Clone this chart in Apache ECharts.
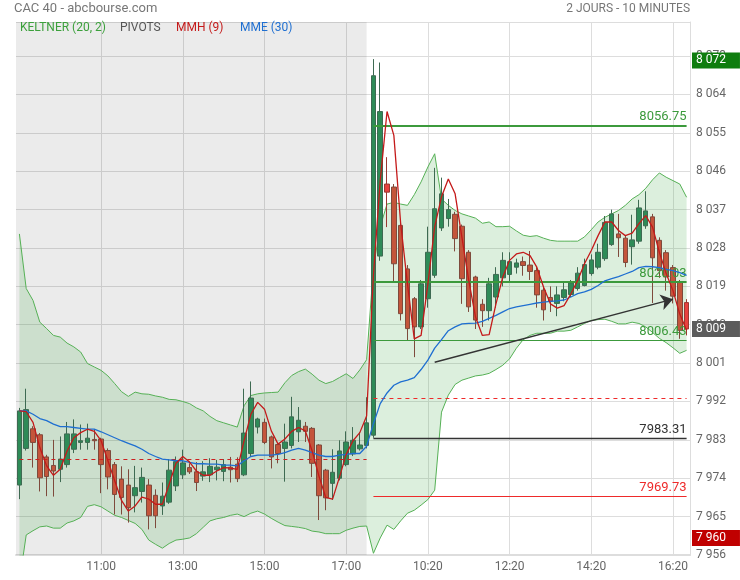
<!DOCTYPE html>
<html><head><meta charset="utf-8">
<script src="https://cdn.jsdelivr.net/npm/echarts@6/dist/echarts.min.js"></script>
<style>html,body{margin:0;padding:0;background:#fff}#c{width:740px;height:580px}</style>
</head><body><div id="c"></div>
<script>
// ---- categories (10-minute bars, two sessions) ----
function sessionTimes(h0, m0, h1, m1) {
  const out = [];
  for (let t = h0 * 60 + m0; t <= h1 * 60 + m1; t += 10) {
    out.push(String(Math.floor(t / 60)).padStart(2, '0') + ':' + String(t % 60).padStart(2, '0'));
  }
  return out;
}
const day1Times = sessionTimes(9, 0, 17, 30);
const day2Times = sessionTimes(9, 0, 16, 40);
const day1Ticks = ['11:00', '13:00', '15:00', '17:00'];
const day2Ticks = ['10:20', '12:20', '14:20', '16:20'];

// ---- candles [open, close, low, high] ----
const candles = [
  [7972.4,7989.8,7969.1,7990.5],[7981.0,7990.1,7980.5,7995.0],[7985.6,7982.4,7976.5,7986.2],[7984.2,7974.1,7970.9,7984.6],
  [7979.0,7974.4,7969.8,7979.5],[7977.0,7975.7,7969.7,7983.0],[7976.1,7978.5,7973.1,7983.8],[7977.2,7984.4,7976.5,7987.2],
  [7980.8,7984.4,7979.9,7987.8],[7982.4,7982.8,7980.7,7986.6],[7982.4,7983.4,7980.7,7986.8],[7983.1,7982.8,7980.7,7985.5],
  [7983.2,7977.2,7970.5,7983.5],[7980.5,7974.3,7971.4,7981.0],[7977.2,7970.2,7965.5,7977.8],[7973.8,7969.5,7965.5,7976.8],
  [7972.4,7967.1,7963.6,7976.1],[7969.9,7971.8,7966.0,7976.9],[7970.9,7974.2,7968.3,7976.5],[7972.4,7965.2,7962.0,7973.8],
  [7970.0,7965.2,7962.3,7971.4],[7967.5,7969.8,7965.4,7973.0],[7968.4,7975.9,7968.0,7978.5],[7972.2,7977.9,7971.0,7979.1],
  [7974.8,7977.6,7973.8,7980.7],[7976.5,7975.5,7975.0,7977.5],[7975.5,7973.0,7971.0,7977.8],[7974.5,7975.5,7973.4,7978.0],
  [7974.8,7976.8,7973.1,7978.7],[7976.0,7976.6,7973.5,7978.3],[7975.6,7977.2,7973.3,7978.5],[7976.6,7976.0,7973.0,7979.0],
  [7977.3,7973.9,7973.1,7978.9],[7974.8,7984.6,7974.5,7995.0],[7979.8,7992.8,7979.0,7996.7],[7986.0,7987.9,7984.5,7988.2],
  [7987.1,7982.4,7982.0,7988.0],[7983.7,7979.0,7976.3,7984.0],[7981.9,7979.8,7977.5,7982.1],[7981.0,7982.5,7973.2,7986.8],
  [7981.7,7988.4,7981.0,7993.1],[7984.9,7987.6,7982.5,7990.7],[7986.2,7985.0,7982.5,7987.2],[7985.7,7977.5,7974.3,7986.0],
  [7981.8,7969.9,7964.2,7982.0],[7975.9,7969.4,7966.5,7976.2],[7972.8,7975.4,7968.9,7980.8],[7974.0,7980.4,7973.5,7982.9],
  [7977.2,7982.5,7976.8,7985.0],[7979.7,7982.9,7979.2,7986.0],[7980.9,7981.8,7980.5,7984.8],[7981.7,7987.0,7981.0,7993.0],
  [7984.1,8068.4,7983.5,8072.3],[8026.1,8060.0,8025.0,8071.5],[8043.0,8041.1,8032.9,8049.3],[8042.3,8024.3,8020.0,8043.0],
  [8033.3,8012.6,8011.0,8034.0],[8023.1,8009.1,8006.3,8024.0],[8016.1,8009.5,8002.4,8016.5],[8009.5,8019.6,8009.0,8020.5],
  [8016.1,8027.0,8014.0,8033.0],[8021.6,8037.2,8021.0,8046.8],[8032.7,8040.7,8032.0,8044.5],[8034.9,8037.0,8033.0,8039.5],
  [8035.9,8030.2,8027.2,8036.5],[8033.1,8020.8,8014.9,8033.5],[8027.0,8014.2,8013.0,8027.5],[8021.2,8011.1,8009.0,8021.5],
  [8014.8,8013.3,8009.5,8016.0],[8013.3,8019.6,8011.0,8021.0],[8016.5,8021.8,8014.0,8023.5],[8021.0,8025.1,8019.0,8027.0],
  [8021.8,8024.8,8020.0,8027.0],[8023.5,8024.5,8022.0,8025.5],[8024.8,8023.9,8021.5,8026.0],[8024.0,8022.5,8020.5,8027.3],
  [8022.7,8017.0,8014.0,8023.5],[8018.1,8013.5,8011.0,8019.0],[8016.4,8015.5,8013.0,8019.0],[8015.0,8017.0,8012.0,8019.0],
  [8016.4,8018.2,8015.5,8020.0],[8017.1,8019.8,8016.5,8020.5],[8018.5,8022.1,8018.0,8023.5],[8019.2,8024.1,8019.0,8025.5],
  [8022.0,8025.2,8021.5,8026.5],[8023.5,8027.0,8023.0,8029.0],[8025.5,8034.0,8025.0,8035.5],[8028.8,8036.0,8028.5,8037.0],
  [8031.3,8030.4,8025.9,8036.0],[8030.3,8024.6,8023.5,8031.0],[8028.3,8029.9,8024.1,8035.8],[8029.6,8037.4,8029.0,8039.3],
  [8033.2,8036.7,8032.5,8041.3],[8035.3,8025.7,8015.1,8036.0],[8029.8,8022.7,8021.0,8030.5],[8026.9,8021.2,8018.0,8027.5],
  [8023.4,8016.7,8015.0,8024.0],[8020.0,8008.7,8006.7,8020.5],[8015.2,8009.0,8007.5,8016.0]
];
const brightDown = [54, 98];

// ---- MMH (9) ----
const mmh = [
  7989.8,7989.6,7987.1,7981.2,7976.9,7974.7,7976.1,7980.4,7983.5,7984.7,7985.5,7985.0,7982.8,7978.1,7973.4,7968.8,
  7966.3,7967.5,7969.6,7969.1,7967.9,7967.9,7972.6,7977.5,7979.1,7977.8,7975.7,7974.7,7974.7,7975.7,7976.5,7976.4,
  7976.1,7982.8,7989.0,7991.8,7990.2,7985.1,7982.0,7983.2,7985.0,7985.9,7985.1,7980.4,7974.5,7969.5,7969.1,7974.2,
  7979.6,7982.8,7984.7,7988.6,
  8021.6,8043.8,8060.0,8054.4,8033.8,8019.6,8006.7,8007.5,8019.6,8033.0,8040.0,8044.2,8040.7,8030.5,8020.4,8011.8,
  8007.5,8007.7,8014.9,8021.2,8025.1,8026.6,8027.0,8026.2,8023.5,8018.8,8014.9,8013.9,8014.5,8017.2,8020.4,8024.3,
  8027.4,8030.9,8034.1,8034.1,8032.1,8030.9,8031.5,8033.7,8035.6,8032.9,8027.0,8022.0,8018.0,8012.5,8008.7
];
// ---- MME (30) ----
const mme = [
  7989.8,7989.8,7989.0,7988.0,7987.5,7986.7,7986.1,7986.1,7985.9,7985.7,7985.5,7985.5,7984.9,7984.2,7983.5,7982.8,
  7982.2,7981.6,7980.8,7979.8,7979.1,7978.5,7978.3,7978.1,7978.1,7977.7,7977.4,7977.4,7977.3,7977.3,7977.1,7977.1,
  7976.9,7978.1,7979.1,7979.4,7979.4,7979.4,7979.6,7980.0,7980.6,7981.0,7980.6,7980.0,7979.4,7979.1,7979.1,7979.4,
  7979.6,7979.8,7979.8,7981.5,
  7986.8,7991.5,7994.0,7995.8,7996.6,7997.0,7997.6,7999.5,8001.7,8004.5,8006.5,8008.6,8009.5,8010.2,8010.3,8010.4,
  8010.8,8011.5,8012.2,8013.0,8013.8,8014.2,8014.5,8014.8,8015.1,8015.3,8015.5,8015.6,8015.8,8016.5,8017.3,8017.7,
  8018.3,8019.2,8020.3,8020.8,8021.3,8021.9,8022.5,8023.4,8023.7,8023.6,8023.4,8023.0,8022.7,8022.2,8021.6
];
// ---- Keltner (20, 2) ----
const keltnerUpper = [
  8031.3,8018.5,8015.7,8010.6,8009.1,8007.5,8007.1,8005.7,8004.8,8003.6,8000.9,8000.1,7999.3,7998.0,7996.2,7994.3,
  7993.2,7994.2,7993.8,7993.7,7993.3,7993.0,7992.5,7992.4,7992.0,7991.5,7990.5,7989.8,7988.5,7987.5,7987.0,7986.5,
  7986.0,7991.0,7993.4,7993.8,7994.0,7994.1,7994.2,7996.4,7998.1,7999.0,7999.6,7998.4,7997.0,7996.2,7996.7,7997.6,
  7998.5,7997.4,7999.4,8001.8,
  8023.5,8033.0,8038.3,8038.7,8038.3,8038.0,8040.5,8043.5,8047.0,8050.1,8039.5,8038.0,8036.8,8036.0,8035.5,8035.0,
  8033.8,8034.1,8033.0,8033.0,8033.1,8032.0,8031.0,8030.7,8030.9,8030.3,8029.8,8029.6,8029.6,8029.6,8029.6,8030.6,
  8032.3,8034.1,8035.2,8036.0,8036.8,8038.0,8039.5,8040.5,8042.0,8044.0,8045.6,8044.6,8043.8,8043.0,8039.9
];
const keltnerLower = [
  7949.7,7960.7,7961.7,7962.6,7962.8,7962.3,7962.3,7963.5,7964.0,7964.8,7967.4,7967.8,7967.3,7966.3,7965.3,7964.8,
  7964.1,7963.4,7962.0,7959.5,7958.5,7957.6,7958.7,7959.5,7959.7,7960.0,7961.0,7962.5,7964.0,7964.5,7964.8,7965.3,
  7965.6,7965.0,7965.8,7966.3,7965.6,7964.6,7963.7,7962.9,7962.7,7962.5,7962.2,7961.6,7961.4,7961.0,7961.0,7961.0,
  7961.8,7962.3,7962.7,7962.8,
  7956.4,7960.0,7963.0,7962.0,7964.0,7965.8,7966.5,7967.7,7969.0,7971.2,7989.5,7993.5,7996.0,7997.0,7997.5,7998.0,
  7998.2,7998.6,7999.5,8000.5,8002.0,8004.5,8006.5,8007.5,8008.0,8008.0,8008.0,8008.5,8008.5,8008.7,8009.5,8010.3,
  8011.0,8011.2,8011.3,8010.8,8010.2,8010.2,8010.6,8010.3,8009.5,8008.2,8006.8,8005.8,8004.6,8003.3,8004.0
];
// ---- pivots ----
const pivotDay1Dashed = 7978.5;
const pivotDay2Dashed = 7992.7;
const pivotLevels = [8056.75, 8020.03, 8006.43, 7983.31, 7969.73];
const pivotColors = ['#3c9a3c', '#3c9a3c', '#3c9a3c', '#333333', '#ee2a2a'];
const pivotWidths = [2, 2, 1.2, 1.3, 1];
// ---- trend arrow ----
const arrowFrom = ['10:30', 8001.2];
const arrowTo = ['16:20', 8016.0];
// ---- price tags ----
const dayHigh = 8072, lastPrice = 8009, dayLow = 7960;

// ---- build ----
const cats = day1Times.map(t => '1 ' + t).concat(day2Times.map(t => '2 ' + t));
const labelSet = new Set();
day1Ticks.forEach(t => labelSet.add(cats.indexOf('1 ' + t)));
day2Ticks.forEach(t => labelSet.add(cats.indexOf('2 ' + t)));
const d1Last = day1Times.length - 1, d2First = day1Times.length, last = cats.length - 1;
const fmt = v => String(Math.round(v)).replace(/\B(?=(\d{3})+(?!\d))/g, ' ');
const bandDiff = keltnerUpper.map((u, i) => u - keltnerLower[i]);
const candleData = candles.map((c, i) => brightDown.includes(i)
  ? { value: c, itemStyle: { color0: '#e8413f', borderColor0: '#9a3a32' } } : c);

const pivotLines = pivotLevels.map((p, k) => [
  { coord: [d2First, p], lineStyle: { color: pivotColors[k], width: pivotWidths[k], type: 'solid' },
    label: { show: true, position: 'insideEndTop', formatter: p.toFixed(2), color: pivotColors[k], fontSize: 13, fontFamily: 'Roboto', distance: [0, 2] } },
  { coord: [last, p] }
]);
const tag = (v, bg) => ({
  yAxis: v, lineStyle: { color: 'rgba(0,0,0,0)', width: 0, opacity: 1 },
  label: { show: true, opacity: 1, position: 'end', formatter: fmt(v), backgroundColor: bg, color: '#fff', fontSize: 12, fontFamily: 'Roboto',
    lineHeight: 12, padding: [2, 14, 2, 4], distance: 2 }
});

const chart = echarts.init(document.getElementById('c'), null, { renderer: 'canvas' });
chart.setOption({
  animation: false,
  textStyle: { fontFamily: 'Roboto' },
  grid: { left: 16, right: 50, top: 22, bottom: 25 },
  graphic: [
    { type: 'text', left: 14, top: 2, style: { text: 'CAC 40 - abcbourse.com', fill: '#777', font: '13px Roboto' } },
    { type: 'text', right: 50, top: 3, style: { text: '2 JOURS - 10 MINUTES', fill: '#777', font: '12px Roboto' } },
    { type: 'text', left: 20, top: 22, z: 100, style: { text: 'KELTNER (20, 2)', fill: '#3ca03c', font: '12px Roboto' } },
    { type: 'text', left: 120, top: 22, z: 100, style: { text: 'PIVOTS', fill: '#555', font: '12px Roboto' } },
    { type: 'text', left: 176, top: 22, z: 100, style: { text: 'MMH (9)', fill: '#c41a1a', font: '12px Roboto' } },
    { type: 'text', left: 240, top: 22, z: 100, style: { text: 'MME (30)', fill: '#1f6fd1', font: '12px Roboto' } }
  ],
  xAxis: {
    type: 'category', data: cats, boundaryGap: true,
    axisLine: { show: true, lineStyle: { color: '#ddd', width: 2 } },
    axisTick: { show: false },
    axisLabel: { interval: (i) => labelSet.has(i), formatter: v => v.slice(2), color: '#666', fontSize: 12, margin: 6 },
    splitLine: { show: true, interval: (i) => labelSet.has(i), alignWithLabel: true, lineStyle: { color: '#ddd' } }
  },
  yAxis: {
    type: 'value', position: 'right', min: 7956, max: 8081, interval: 9,
    axisLine: { show: true, lineStyle: { color: '#ddd' } },
    axisTick: { show: false },
    axisLabel: { color: '#666', fontSize: 12, margin: 6, showMaxLabel: false, formatter: fmt },
    splitLine: { show: true, lineStyle: { color: '#ddd' } }
  },
  series: [
    { name: 'kbase', type: 'line', data: keltnerLower, stack: 'k', symbol: 'none', silent: true,
      lineStyle: { opacity: 0 }, z: 1,
      markArea: { silent: true, itemStyle: { color: 'rgba(0,0,0,0.08)' }, data: [[{}, { xAxis: d1Last }]] } },
    { name: 'kband', type: 'line', data: bandDiff, stack: 'k', symbol: 'none', silent: true,
      lineStyle: { opacity: 0 }, areaStyle: { color: 'rgba(76,175,80,0.28)' }, z: 1 },
    { name: 'KELTNER up', type: 'line', data: keltnerUpper, symbol: 'none', silent: true,
      lineStyle: { color: '#55b055', width: 1 }, z: 2 },
    { name: 'KELTNER low', type: 'line', data: keltnerLower, symbol: 'none', silent: true,
      lineStyle: { color: '#55b055', width: 1 }, z: 2 },
    { name: 'CAC 40', type: 'candlestick', data: candleData, barWidth: 5, z: 3,
      itemStyle: { color: '#2e8b57', color0: '#c4553b', borderColor: '#3e6a52', borderColor0: '#7e4a3c', borderWidth: 1 } },
    { name: 'PIVOTS', type: 'line', data: [], z: 4,
      markLine: { silent: true, symbol: 'none', animation: false, label: { show: false },
        data: [
          [{ coord: [0, pivotDay1Dashed], lineStyle: { color: '#cc2020', width: 1, type: [4, 4] } }, { coord: [d1Last, pivotDay1Dashed] }],
          [{ coord: [d2First, pivotDay2Dashed], lineStyle: { color: '#ee2a2a', width: 1, type: [4, 4] } }, { coord: [last, pivotDay2Dashed] }]
        ].concat(pivotLines) } },
    { name: 'MME (30)', type: 'line', data: mme, symbol: 'none', silent: true, z: 5,
      lineStyle: { color: '#1f6fd1', width: 1.3 } },
    { name: 'MMH (9)', type: 'line', data: mmh, symbol: 'none', silent: true, z: 6,
      lineStyle: { color: '#c41a1a', width: 1.3 },
      markLine: { silent: true, symbol: 'none', animation: false,
        data: [
          [{ coord: arrowFrom.map((v, k) => k === 0 ? cats.indexOf('2 ' + v) : v), symbol: 'none',
             lineStyle: { color: '#333', width: 1.4, type: 'solid' }, label: { show: false } },
           { coord: arrowTo.map((v, k) => k === 0 ? cats.indexOf('2 ' + v) : v), symbol: 'arrow', symbolSize: 12 }]
        ] } },
    { name: 'tags', type: 'line', data: [], z: 10, clip: false,
      markLine: { silent: true, symbol: 'none', animation: false,
        data: [tag(dayHigh, '#0f7d0f'), tag(lastPrice, '#5c5c5c'), tag(dayLow, '#c00000')] } }
  ]
});
</script>
</body></html>
